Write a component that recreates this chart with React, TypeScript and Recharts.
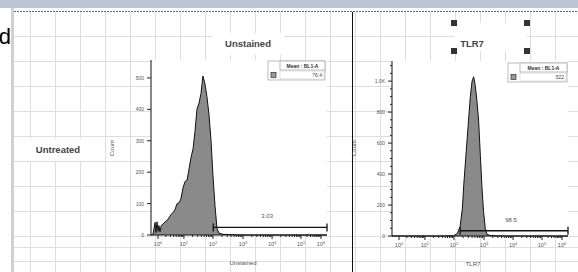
import React from "react";
import { Area, AreaChart, CartesianGrid, ReferenceLine, XAxis, YAxis } from "recharts";

// display channel (0-1000) of each decade label on the biex axis
const decadeChannels = [40, 187, 352, 523, 688, 852, 966];
const decadeExponents = ["0", "1", "2", "3", "4", "5", "6"];

// Unstained histogram
const unstainedChannel = [0, 11, 23, 28, 34, 40, 45, 51, 57, 68, 80, 91, 102, 114, 125, 136, 148, 159, 170, 182, 193, 205, 216, 227, 239, 250, 261, 273, 284, 295, 307, 318, 330, 341, 352, 364, 375, 386, 409, 455, 511, 1000];
const unstainedCount = [0, 2, 40, 8, 42, 12, 30, 10, 28, 35, 42, 46, 55, 65, 72, 80, 100, 102, 115, 150, 170, 175, 210, 245, 275, 330, 400, 420, 450, 506, 480, 440, 380, 300, 190, 90, 20, 6, 2, 1, 0, 0];
const unstainedYTicks = [0, 100, 200, 300, 400, 500];
const unstainedYMax = 557;

// TLR7 histogram
const tlr7Channel = [0, 300, 350, 370, 387, 400, 407, 420, 435, 445, 455, 464, 472, 482, 492, 502, 511, 520, 530, 540, 560, 600, 650, 1000];
const tlr7Count = [0, 0, 2, 15, 60, 180, 318, 520, 748, 900, 1000, 1028, 980, 880, 748, 520, 318, 160, 50, 10, 3, 1, 0, 0];
const tlr7YTicks = [0, 200, 400, 600, 800, 1000];
const tlr7YMinor = [50, 100, 150, 250, 300, 350, 450, 500, 550, 650, 700, 750, 850, 900, 950, 1050, 1100];
const tlr7YMax = 1130;

// gates: [start, end, level], frequency labels
const unstainedGate = [354, 1000, 24];
const tlr7Gate = [387, 1000, 34];
const unstainedFreq = "3.03";
const tlr7Freq = "98.5";

// statistics table
const statHeader = "Mean : BL1-A";
const unstainedMean = "76.4";
const tlr7Mean = "522";

const font = "'Liberation Sans', Arial, sans-serif";

const toRows = (ch: number[], count: number[]) => ch.map((c, i) => ({ ch: c, count: count[i] }));

const minorX: number[] = [];
for (let k = 0; k < decadeChannels.length - 1; k++) {
  for (let m = 2; m <= 9; m++) {
    minorX.push(decadeChannels[k] + Math.log10(m) * (decadeChannels[k + 1] - decadeChannels[k]));
  }
}
const xTicks = [...decadeChannels, ...minorX].sort((a, b) => a - b);

const XTick = ({ x, y, payload }: any) => {
  const i = decadeChannels.indexOf(payload.value);
  if (i < 0) return <line x1={x} y1={y} x2={x} y2={y + 2} stroke="#222" />;
  return (
    <g>
      <line x1={x} y1={y} x2={x} y2={y + 4} stroke="#222" />
      <text x={x} y={y + 11} textAnchor="middle" fontSize={5.5} fill="#555" fontFamily={font}>
        <tspan>10</tspan>
        <tspan dy={-2.5} fontSize={4}>{decadeExponents[i]}</tspan>
      </text>
    </g>
  );
};

const makeYTick = (majors: number[]) => ({ x, y, payload }: any) => {
  const v = payload.value;
  if (!majors.includes(v)) return <line x1={x - 2} y1={y} x2={x} y2={y} stroke="#222" />;
  const label = v >= 1000 ? (v / 1000).toFixed(1) + "K" : String(v);
  return (
    <g>
      <line x1={x - 4} y1={y} x2={x} y2={y} stroke="#222" />
      <text x={x - 7} y={y + 2} textAnchor="end" fontSize={5} fill="#555" fontFamily={font}>
        {label}
      </text>
    </g>
  );
};

const GateShape = (props: any) => {
  const { x1, y1, x2, y2 } = props;
  return (
    <g>
      <line x1={x1} y1={y1} x2={x2} y2={y2} stroke="#111" strokeWidth={1.3} />
      <line x1={x1} y1={y1 - 4} x2={x1} y2={y1 + 4} stroke="#111" strokeWidth={1.3} />
      <line x1={x2} y1={y2 - 4} x2={x2} y2={y2 + 4} stroke="#111" strokeWidth={1.3} />
    </g>
  );
};

type HistProps = {
  data: { ch: number; count: number }[];
  yMax: number;
  yTicks: number[];
  yMinor: number[];
  gate: number[];
  freq: string;
  xLabel: string;
  xLabelShift: number;
  left: number;
  top: number;
  marginLeft: number;
  marginRight: number;
};

function Histogram(p: HistProps) {
  const YTick = makeYTick(p.yTicks);
  return (
    <div style={{ position: "absolute", left: p.left, top: p.top }}>
      <AreaChart
        width={240}
        height={215}
        data={p.data}
        margin={{ top: 5, right: p.marginRight, left: p.marginLeft, bottom: 0 }}
      >
        <CartesianGrid horizontal={false} vertical={false} fill="#fff" fillOpacity={1} />
        <XAxis
          dataKey="ch"
          type="number"
          domain={[0, 1000]}
          ticks={xTicks}
          interval={0}
          tick={<XTick />}
          tickLine={false}
          tickSize={0}
          tickMargin={0}
          height={35}
          axisLine={{ stroke: "#111" }}
          label={{ value: p.xLabel, position: "insideBottom", offset: 5, dx: p.xLabelShift, fontSize: 6, fill: "#555", fontFamily: font }}
        />
        <XAxis xAxisId="top" orientation="top" type="number" domain={[0, 1000]} height={0} tick={false} tickLine={false} axisLine={{ stroke: "#999" }} />
        <YAxis
          type="number"
          domain={[0, p.yMax]}
          ticks={[...p.yTicks, ...p.yMinor].sort((a, b) => a - b)}
          interval={0}
          tick={<YTick />}
          tickLine={false}
          tickSize={0}
          tickMargin={0}
          width={40}
          axisLine={{ stroke: "#111" }}
        />
        <YAxis yAxisId="right" orientation="right" type="number" domain={[0, p.yMax]} width={0} tick={false} tickLine={false} axisLine={{ stroke: "#999" }} />
        <Area
          type="linear"
          dataKey="count"
          stroke="#111"
          strokeWidth={1}
          fill="#8a8a8a"
          fillOpacity={1}
          isAnimationActive={false}
          dot={false}
          activeDot={false}
        />
        <ReferenceLine
          segment={[
            { x: p.gate[0], y: p.gate[2] },
            { x: p.gate[1], y: p.gate[2] },
          ]}
          shape={GateShape}
          label={{ value: p.freq, position: "top", offset: 9, dx: -3, fontSize: 6, fill: "#555", fontFamily: font }}
        />
      </AreaChart>
    </div>
  );
}

function StatBox({ x, y, w, value }: { x: number; y: number; w: number; value: string }) {
  return (
    <g fontFamily={font}>
      <rect x={x} y={y} width={w} height={19} fill="#fff" stroke="#aaa" strokeWidth={0.8} />
      <rect x={x + 12} y={y} width={w - 12} height={9} fill="#fff" stroke="#aaa" strokeWidth={0.8} />
      <rect x={x + 12} y={y + 10} width={w - 13} height={8} fill="#fff" stroke="#ccc" strokeWidth={0.6} />
      <text x={x + 12 + (w - 12) / 2} y={y + 6.5} textAnchor="middle" fontSize={5} fontWeight="bold" fill="#333">
        {statHeader}
      </text>
      <rect x={x + 3} y={y + 11.5} width={5} height={5} fill="#999" stroke="#333" strokeWidth={0.7} />
      <text x={x + w - 3} y={y + 16} textAnchor="end" fontSize={5} fill="#444">
        {value}
      </text>
    </g>
  );
}

const gridX = Array.from({ length: 22 }, (_, k) => 30 + 25 * k);
const gridY = [36, 61, 86, 111, 136, 161, 186, 211, 236, 247, 261];

export default function App() {
  return (
    <div style={{ position: "absolute", left: 0, top: 0, width: 578, height: 272, overflow: "hidden", background: "#fff" }}>
      <svg width={578} height={272} style={{ position: "absolute", left: 0, top: 0 }}>
        <rect x={0} y={0} width={578} height={8} fill="#bcc5d6" />
        <rect x={11} y={8} width={3} height={264} fill="#d0d0d0" />
        {gridX.map((gx) => (
          <line key={"v" + gx} x1={gx + 0.5} y1={12} x2={gx + 0.5} y2={272} stroke="#dedede" />
        ))}
        {gridY.map((gy) => (
          <line key={"h" + gy} x1={14} y1={gy + 0.5} x2={578} y2={gy + 0.5} stroke="#dedede" />
        ))}
        <line x1={14} y1={11.5} x2={578} y2={11.5} stroke="#666" strokeDasharray="2 1" />
        <line x1={352.5} y1={12} x2={352.5} y2={272} stroke="#111" />
        <rect x={22} y={139} width={76} height={22} fill="#fff" />
        <rect x={212} y={33} width={72} height={22} fill="#fff" />
        <rect x={454} y={23} width={73} height={28} fill="#fff" />
      </svg>
      <Histogram
        data={toRows(unstainedChannel, unstainedCount)}
        yMax={unstainedYMax}
        yTicks={unstainedYTicks}
        yMinor={[]}
        gate={unstainedGate}
        freq={unstainedFreq}
        xLabel="Unstained"
        xLabelShift={4}
        left={100}
        top={55}
        marginLeft={11}
        marginRight={13}
      />
      <Histogram
        data={toRows(tlr7Channel, tlr7Count)}
        yMax={tlr7YMax}
        yTicks={tlr7YTicks}
        yMinor={tlr7YMinor}
        gate={tlr7Gate}
        freq={tlr7Freq}
        xLabel="TLR7"
        xLabelShift={-7}
        left={340}
        top={56}
        marginLeft={12}
        marginRight={12}
      />
      <svg width={578} height={272} style={{ position: "absolute", left: 0, top: 0, pointerEvents: "none" }}>
        <text x={11} y={44} textAnchor="end" fontSize={22} fill="#000" fontFamily={font}>
          d
        </text>
        <text x={58} y={153} textAnchor="middle" fontSize={9.5} fontWeight="bold" fill="#444" fontFamily={font}>
          Untreated
        </text>
        <text x={248} y={47} textAnchor="middle" fontSize={9.5} fontWeight="bold" fill="#444" fontFamily={font}>
          Unstained
        </text>
        <text x={472} y={47} textAnchor="middle" fontSize={9.5} fontWeight="bold" fill="#444" fontFamily={font}>
          TLR7
        </text>
        {[
          [451, 20],
          [524, 20],
          [451, 48],
          [524, 48],
        ].map(([hx, hy]) => (
          <rect key={hx + "-" + hy} x={hx} y={hy} width={6} height={6} fill="#333" />
        ))}
        <text x={114} y={148} transform="rotate(-90 114 148)" textAnchor="middle" fontSize={6} fill="#555" fontFamily={font}>
          Count
        </text>
        <text x={356} y={148} transform="rotate(-90 356 148)" textAnchor="middle" fontSize={6} fill="#555" fontFamily={font}>
          Count
        </text>
        <StatBox x={268} y={61} w={57} value={unstainedMean} />
        <StatBox x={508} y={63} w={59} value={tlr7Mean} />
      </svg>
    </div>
  );
}
